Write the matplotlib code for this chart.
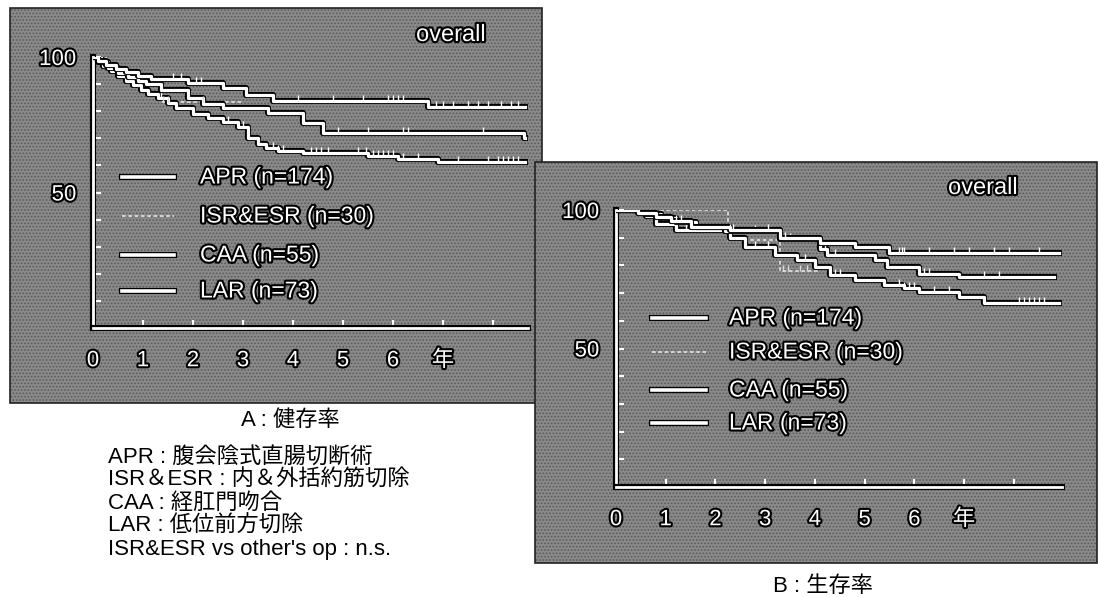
import numpy as np
import matplotlib.pyplot as plt
import matplotlib.patheffects as pe
from matplotlib.patches import Rectangle

# ---- data (years, % surviving) ----
# A : disease-free survival
a_top_t = [0, 0.1, 0.25, 0.45, 0.65, 0.9, 1.15, 1.9, 2.6, 3.05, 3.6, 6.7]
a_top_v = [100, 98.5, 97, 95.5, 94.5, 93, 92, 90.5, 88.5, 86, 83.9, 81.7]
a_mid_t = [0, 0.15, 0.3, 0.5, 0.7, 0.9, 1.05, 1.35, 1.9, 2.2, 2.6, 3.5, 4.2, 4.6, 8.62]
a_mid_v = [100, 98, 96, 94, 92.5, 91, 90, 88, 85, 82.5, 81, 79.3, 75.6, 72, 70]
a_bot_t = [0, 0.1, 0.2, 0.35, 0.5, 0.65, 0.8, 0.95, 1.1, 1.3, 1.5, 1.65, 2.0, 2.3,
           2.6, 2.9, 3.1, 3.3, 3.45, 3.7, 4.2, 5.5, 6.1, 6.9]
a_bot_v = [100, 98, 96.5, 95, 93, 91, 89.5, 88, 86.5, 85, 83, 81, 79, 77.5,
           76, 74, 70, 68, 66.5, 65.3, 64.5, 63.3, 62.4, 61.2]
a_isr_t = [0, 0.25, 0.5, 0.8, 1.1, 1.35]
a_isr_v = [100, 96.7, 93.3, 90, 86.7, 83.3]
a_end = [8.64, 8.64, 8.64, 3.0]

a_top_c = [1.6, 1.75, 2.05, 2.15, 4.1, 4.8, 5.4, 5.9, 6.0, 6.1, 6.2, 6.85, 7.0,
           7.2, 7.5, 7.7, 7.9, 8.15, 8.35, 8.5]
a_mid_c = [4.9, 5.5, 6.2, 6.3, 7.8]
a_bot_c = [1.35, 2.7, 3.0, 3.6, 3.7, 3.8, 4.35, 4.45, 4.55, 4.7, 5.3, 5.45, 5.6,
           5.7, 5.8, 5.9, 6.0, 6.2, 6.5, 7.3, 7.9, 8.1, 8.2, 8.3, 8.4, 8.5]
a_isr_c = [1.4, 1.5, 2.2]

# B : overall survival
b_top_t = [0, 0.45, 0.8, 1.1, 1.5, 2.3, 3.3, 4.1, 4.8, 5.5]
b_top_v = [100, 99, 97.5, 96, 94, 92.8, 90, 88, 86.5, 84.6]
b_mid_t = [0, 0.6, 0.9, 1.2, 1.6, 2.2, 3.3, 4.1, 4.25, 5.2, 5.45, 6.1, 6.9]
b_mid_v = [100, 98.5, 97, 95.5, 94, 92.5, 89.5, 86, 83.7, 82, 79.5, 77, 75.7]
b_bot_t = [0, 0.6, 0.8, 1.2, 2.3, 2.6, 3.2, 3.65, 4.0, 4.3, 4.8, 5.4, 5.8, 6.1, 6.9, 7.4]
b_bot_v = [100, 98, 95, 92.8, 89.8, 86.7, 83.7, 82, 79.5, 76.5, 74.7, 72.9, 71.7,
           70.5, 68.7, 66.5]
b_isr_t = [0, 2.25, 3.3]
b_isr_v = [100, 89, 78]
b_end = [8.9, 8.8, 8.9, 4.1]

b_top_c = [1.2, 1.3, 2.3, 2.35, 3.05, 3.3, 3.4, 5.5, 5.7, 5.75, 5.8, 6.3, 6.8,
           7.1, 7.6, 7.9, 8.5]
b_mid_c = [2.8, 3.5, 4.2, 4.4, 6.2, 6.3, 7.4, 7.7]
b_bot_c = [1.4, 2.6, 2.8, 3.05, 3.8, 4.3, 4.4, 4.5, 5.7, 5.8, 5.9, 6.0, 6.4,
           6.7, 8.1, 8.2, 8.3, 8.4, 8.5, 8.6]
b_isr_c = [3.35, 3.45, 3.7, 3.85]

legend_labels = ['APR (n=174)', 'ISR&ESR (n=30)', 'CAA (n=55)', 'LAR (n=73)']
year_labels = ['0', '1', '2', '3', '4', '5', '6', '年', '']
caption_lines = ['APR : 腹会陰式直腸切断術',
                 'ISR＆ESR : 内＆外括約筋切除',
                 'CAA : 経肛門吻合',
                 'LAR : 低位前方切除',
                 "ISR&ESR vs other's op : n.s."]

W, H = 1098, 597
GREY = '#8a8a8a'
FAM = ['Liberation Sans', 'Noto Sans CJK JP']
outline = [pe.withStroke(linewidth=3, foreground='black')]
line_fx = [pe.Stroke(linewidth=4.4, foreground='black'), pe.Normal()]

plt.rcParams['hatch.linewidth'] = 0.8
fig = plt.figure(figsize=(W / 100, H / 100), dpi=100)


def box(x0, y0, x1, y1):
    # figure fraction from pixel box (top-left origin)
    return [x0 / W, 1 - y1 / H, (x1 - x0) / W, (y1 - y0) / H]


def panel(x0, y0, x1, y1):
    xy = (x0 / W, 1 - y1 / H)
    w, h = (x1 - x0) / W, (y1 - y0) / H
    # speckled scan look: grey fill with a fine dark hatch on top
    fig.add_artist(Rectangle(xy, w, h, transform=fig.transFigure,
                             fc=GREY, ec='none', zorder=0))
    fig.add_artist(Rectangle(xy, w, h, transform=fig.transFigure, fc='none',
                             ec='#5a5a5a', hatch='.....', lw=0, zorder=0))
    fig.add_artist(Rectangle(xy, w, h, transform=fig.transFigure, fc='none',
                             ec='#222222', lw=1.2, zorder=0))


panel(10, 8, 542, 403)
panel(535, 162, 1097, 563)


def km(ax, t, v, end, cens, isr=False):
    tt = list(t) + [end]
    vv = list(v) + [v[-1]]
    if isr:
        ax.step(tt, vv, where='post', color='#dcdcdc', lw=1.3,
                ls=(0, (2, 1.5)), zorder=3)
    else:
        ax.step(tt, vv, where='post', color='white', lw=2.3,
                path_effects=line_fx, zorder=4)
    c = np.array(cens)
    cv = np.array(v)[np.searchsorted(t, c, side='right') - 1]
    ax.vlines(c, cv, cv + 2.2, color='white' if not isr else '#dcdcdc',
              lw=1, zorder=4)


def setup(ax, xmax, legx, legy, text_x):
    ax.set_facecolor('none')
    ax.set_xlim(0, xmax)
    ax.set_ylim(0, 100)
    for s in ['top', 'right']:
        ax.spines[s].set_visible(False)
    for s in ['left', 'bottom']:
        ax.spines[s].set_color('white')
        ax.spines[s].set_linewidth(2)
        ax.spines[s].set_path_effects(line_fx)
    ax.set_yticks(range(0, 101, 10))
    ax.set_yticklabels(['100' if k == 100 else '50' if k == 50 else ''
                        for k in range(0, 101, 10)])
    ax.set_xticks(range(0, 9))
    ax.set_xticklabels(year_labels)
    ax.tick_params(axis='both', direction='in', colors='white', width=1.5, length=6)
    ax.tick_params(axis='x', pad=16)
    ax.tick_params(axis='y', pad=12)
    for lab in ax.get_xticklabels() + ax.get_yticklabels():
        lab.set_fontfamily(FAM)
        lab.set_fontsize(16)
        lab.set_path_effects(outline)
    # legend drawn as lines + text, like the original
    for i, lab in enumerate(legend_labels):
        y = legy[i]
        if i == 1:
            ax.plot(legx, [y, y], color='#dcdcdc', lw=1.3, ls=(0, (2, 1.5)),
                    transform=ax.transAxes, clip_on=False)
        else:
            ax.plot(legx, [y, y], color='white', lw=2.6, path_effects=line_fx,
                    transform=ax.transAxes, clip_on=False)
        ax.text(text_x, y, lab, transform=ax.transAxes, color='white',
                fontsize=16.5, family=FAM, va='center', path_effects=outline)


# ---- panel A ----
axA = fig.add_axes(box(93, 57, 528, 328))
setup(axA, 8.7, [(122 - 93) / 435, (174 - 93) / 435],
      [(328 - y) / 271 for y in [177, 216, 255, 291]], (200 - 93) / 435)
km(axA, a_bot_t, a_bot_v, a_end[2], a_bot_c)
km(axA, a_mid_t, a_mid_v, a_end[1], a_mid_c)
km(axA, a_top_t, a_top_v, a_end[0], a_top_c)
km(axA, a_isr_t, a_isr_v, a_end[3], a_isr_c, isr=True)
fig.text(451 / W, 1 - 35 / H, 'overall', color='white', fontsize=17, family=FAM,
         ha='center', va='center', path_effects=outline)

# ---- panel B ----
axB = fig.add_axes(box(616, 210, 1062, 487))
setup(axB, 8.97, [(652 - 616) / 446, (706 - 616) / 446],
      [(487 - y) / 277 for y in [318, 352, 390, 423]], (729 - 616) / 446)
km(axB, b_bot_t, b_bot_v, b_end[2], b_bot_c)
km(axB, b_mid_t, b_mid_v, b_end[1], b_mid_c)
km(axB, b_top_t, b_top_v, b_end[0], b_top_c)
km(axB, b_isr_t, b_isr_v, b_end[3], b_isr_c, isr=True)
fig.text(983 / W, 1 - 188 / H, 'overall', color='white', fontsize=17, family=FAM,
         ha='center', va='center', path_effects=outline)

# ---- captions ----
fig.text(290 / W, 1 - 421 / H, 'A : 健存率', fontsize=16, family=FAM,
         ha='center', va='center')
for i, s in enumerate(caption_lines):
    fig.text(108 / W, 1 - (457 + 23 * i) / H, s, fontsize=16, family=FAM,
             ha='left', va='center')
fig.text(823 / W, 1 - 586 / H, 'B : 生存率', fontsize=16, family=FAM,
         ha='center', va='center')

fig.savefig('out.png', dpi=100, facecolor='white')
